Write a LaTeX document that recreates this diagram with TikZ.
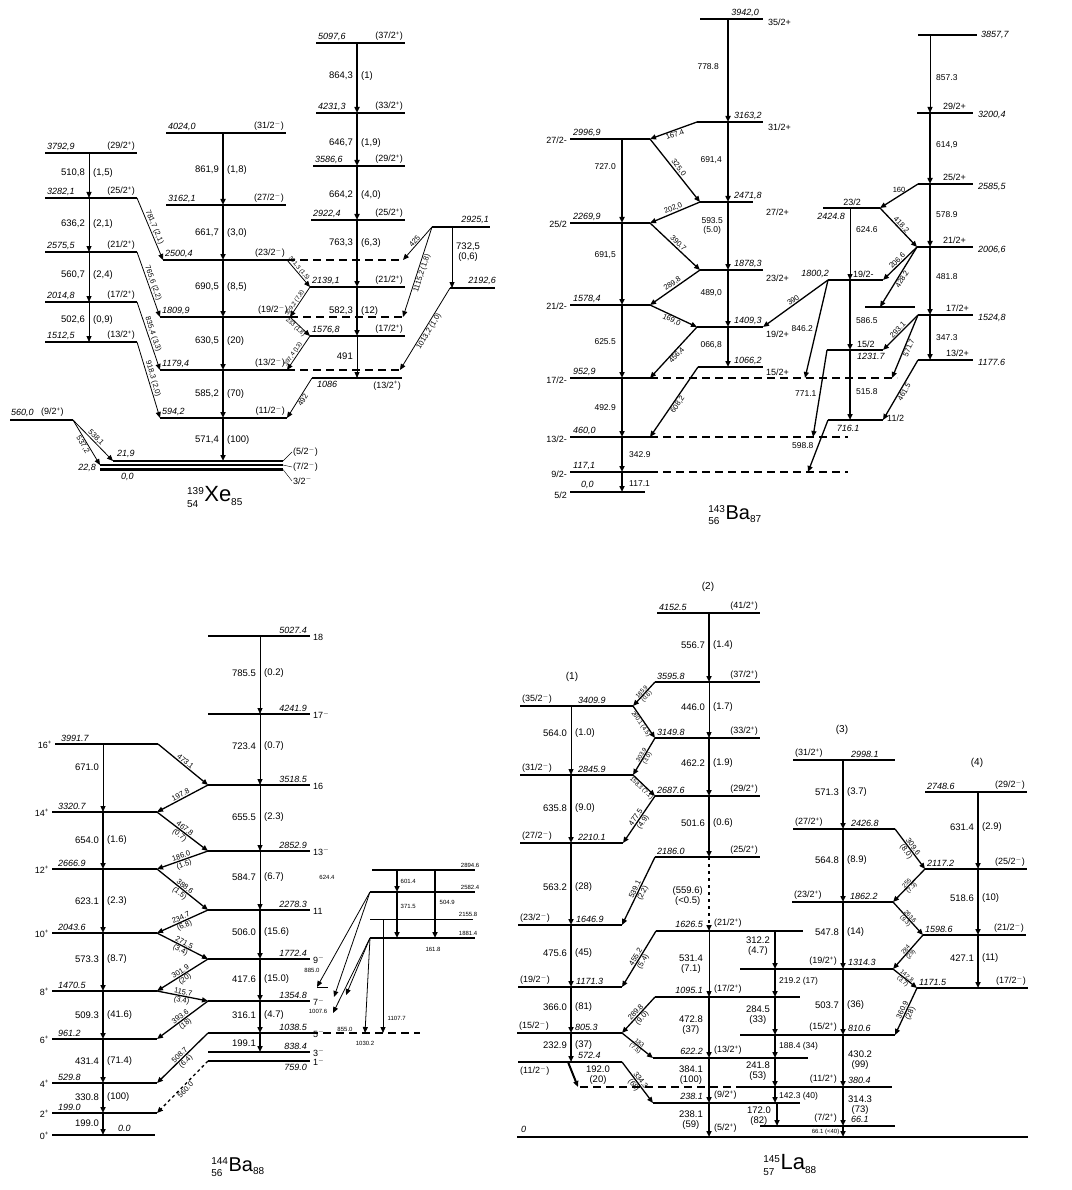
\documentclass[tikz,border=0pt]{standalone}
\usepackage{amsmath}
\usepackage{fontspec}
\setmainfont{Liberation Sans}
\usetikzlibrary{arrows.meta}

\newcommand{\upP}{\textsuperscript{+}}
\newcommand{\upM}{\textsuperscript{$-$}}
% level: energy left, spin right
\newcommand{\levES}[6]{%
  \draw[lev] (#2,#4) coordinate (#1) -- (#3,#4) coordinate (#1r);
  \node[en,anchor=south west] (#1e) at (#2+1,#4-1) {#5};
  \node[sp,anchor=south east] (#1s) at (#3-1,#4-1) {#6};}
% level: spin left, energy right
\newcommand{\levSE}[6]{%
  \draw[lev] (#2,#4) coordinate (#1) -- (#3,#4) coordinate (#1r);
  \node[sp,anchor=south west] (#1s) at (#2+1,#4-1) {#6};
  \node[en,anchor=south west] (#1e) at (#2+57,#4-1) {#5};}
% level: energy above right end, spin outside right
\newcommand{\levR}[6]{%
  \draw[lev] (#2,#4) coordinate (#1) -- (#3,#4) coordinate (#1r);
  \node[en,anchor=south east] (#1e) at (#3-2,#4-1) {#5};
  \node[sp,anchor=west] (#1s) at (#3+2,#4+1) {#6};}
% level: energy above left end, spin outside left
\newcommand{\levL}[6]{%
  \draw[lev] (#2,#4) coordinate (#1) -- (#3,#4) coordinate (#1r);
  \node[en,anchor=south west] (#1e) at (#2+5,#4-1) {#5};
  \node[sp,anchor=east] (#1s) at (#2-2,#4+1) {#6};}
% labels either side of a vertical transition
\newcommand{\tpair}[6][tl]{%
  \node[#1,anchor=east] (#2a) at (#3-3,#4) {#5};
  \node[#1,anchor=west] (#2b) at (#3+3,#4) {#6};}

\begin{document}
\begin{tikzpicture}[x=1pt,y=-1pt,
    lev/.style={line width=1.5pt},
    levd/.style={line width=1.2pt, dash pattern=on 8pt off 5pt},
    gam/.style={line width=0.8pt, -{Triangle[length=6pt,width=5pt]}},
    gamD/.style={gam, line width=1.3pt},
    gamT/.style={gam, line width=2pt},
    tl/.style={font=\fontsize{9.5}{10.5}\selectfont, inner sep=1pt},
    tlb/.style={font=\fontsize{8.5}{9.5}\selectfont, inner sep=1pt},
    tls/.style={font=\fontsize{7.5}{8}\selectfont, inner sep=0.8pt},
    tlx/.style={font=\fontsize{6}{6.5}\selectfont, inner sep=0.5pt},
    en/.style={font=\fontsize{9}{10}\selectfont\itshape, inner sep=1pt},
    sp/.style={font=\fontsize{9}{10}\selectfont, inner sep=1pt},
    nuc/.style={font=\fontsize{22}{24}\selectfont, inner sep=0pt}
]
\fill[white] (0,0) rectangle (1071,1190);
\useasboundingbox (0,0) rectangle (1071,1190);

% ---------------- 139Xe ----------------
% left band
\levES{xeA}{45}{137}{153}{3792,9}{(29/2\upP)}
\levES{xeB}{45}{137}{198}{3282,1}{(25/2\upP)}
\levES{xeC}{45}{137}{252}{2575,5}{(21/2\upP)}
\levES{xeD}{45}{137}{302}{2014,8}{(17/2\upP)}
\levES{xeE}{45}{137}{342}{1512,5}{(13/2\upP)}
\draw[gam] (89,0 |- xeA) -- (89,0 |- xeB);
\draw[gam] (89,0 |- xeB) -- (89,0 |- xeC);
\draw[gam] (89,0 |- xeC) -- (89,0 |- xeD);
\draw[gam] (89,0 |- xeD) -- (89,0 |- xeE);
\tpair{g510}{89}{173}{510,8}{(1,5)}
\tpair{g636}{89}{224}{636,2}{(2,1)}
\tpair{g560}{89}{275}{560,7}{(2,4)}
\tpair{g502}{89}{320}{502,6}{(0,9)}

% middle band
\levES{xeF}{166}{286}{133}{4024,0}{(31/2\upM)}
\levES{xeG}{166}{286}{205}{3162,1}{(27/2\upM)}
\levES{xeH}{163}{287}{260}{2500,4}{(23/2\upM)}
\levES{xeI}{160}{290}{317}{1809,9}{(19/2\upM)}
\levES{xeJ}{160}{287}{370}{1179,4}{(13/2\upM)}
\levES{xeK}{160}{287}{418}{594,2}{(11/2\upM)}
\draw[levd] (xeHr) -- (403,260) coordinate (xeHd);
\draw[levd] (xeIr) -- (403,317) coordinate (xeId);
\draw[levd] (xeJr) -- (400,370) coordinate (xeJd);

% ground levels
\draw[lev] (113,461) coordinate (xeG1) -- (283,461) coordinate (xeG1r);
\draw[lev] (100,465) coordinate (xeG2) -- (283,465) coordinate (xeG2r);
\draw[lev, line width=2.2pt] (100,469.5) coordinate (xeG0) -- (283,469.5) coordinate (xeG0r);
\node[en,anchor=south west] (xeG1e) at (116,459) {21,9};
\node[en,anchor=north west] (xeG0e) at (120,472) {0,0};
\node[en,anchor=east] (xeG2e) at (97,468) {22,8};
\draw (xeG1r) -- (292,452) node[sp,anchor=west] (xeG1s) {(5/2\upM)};
\draw (xeG2r) -- (292,467) node[sp,anchor=west] (xeG2s) {(7/2\upM)};
\draw (xeG0r) -- (292,481) node[sp,anchor=west] (xeG0s) {3/2\upM};

\draw[gamT] (223,0 |- xeF) -- (223,0 |- xeG);
\draw[gamT] (223,0 |- xeG) -- (223,0 |- xeH);
\draw[gamT] (223,0 |- xeH) -- (223,0 |- xeI);
\draw[gamT] (223,0 |- xeI) -- (223,0 |- xeJ);
\draw[gamT] (223,0 |- xeJ) -- (223,0 |- xeK);
\draw[gamT] (223,0 |- xeK) -- (223,0 |- xeG1);
\tpair{g861}{223}{170}{861,9}{(1,8)}
\tpair{g661}{223}{233}{661,7}{(3,0)}
\tpair{g690}{223}{287}{690,5}{(8,5)}
\tpair{g630}{223}{341}{630,5}{(20)}
\tpair{g585}{223}{394}{585,2}{(70)}
\tpair{g571}{223}{440}{571,4}{(100)}

% right band
\levES{xeL}{316}{405}{43}{5097,6}{(37/2\upP)}
\levES{xeM}{316}{405}{113}{4231,3}{(33/2\upP)}
\levES{xeN}{313}{405}{166}{3586,6}{(29/2\upP)}
\levES{xeO}{311}{405}{220}{2922,4}{(25/2\upP)}
\levES{xeP}{310}{405}{287}{2139,1}{(21/2\upP)}
\levES{xeQ}{310}{405}{336}{1576,8}{(17/2\upP)}
\draw[lev] (312,378) coordinate (xeR) -- (402,378) coordinate (xeRr);
\node[en,anchor=north west] (xeRe) at (316,380) {1086};
\node[sp,anchor=north east] (xeRs) at (402,380) {(13/2\upP)};
\draw[gamT] (357,0 |- xeL) -- (357,0 |- xeM);
\draw[gamT] (357,0 |- xeM) -- (357,0 |- xeN);
\draw[gamT] (357,0 |- xeN) -- (357,0 |- xeO);
\draw[gamT] (357,0 |- xeO) -- (357,0 |- xeP);
\draw[gamT] (357,0 |- xeP) -- (357,0 |- xeQ);
\draw[gam] (357,0 |- xeQ) -- (357,0 |- xeR);
\tpair{g864}{357}{76}{864,3}{(1)}
\tpair{g646}{357}{143}{646,7}{(1,9)}
\tpair{g664}{357}{195}{664,2}{(4,0)}
\tpair{g763}{357}{243}{763,3}{(6,3)}
\tpair{g582}{357}{311}{582,3}{(12)}
\tpair{g491}{357}{356}{491}{}

% side levels
\draw[lev] (432,227) coordinate (xeS) -- (490,227) coordinate (xeSr);
\node[en,anchor=south east] (xeSe) at (490,225) {2925,1};
\draw[lev] (450,288) coordinate (xeT) -- (495,288) coordinate (xeTr);
\node[en,anchor=south east] (xeTe) at (497,286) {2192,6};
\draw[gam] (452,0 |- xeS) -- (452,0 |- xeT);
\node[tl,anchor=west,align=center] (g732) at (455,252) {732,5\\(0,6)};
\draw[lev] (10,420) coordinate (xeX) -- (73,420) coordinate (xeXr);
\node[en,anchor=south west] (xeXe) at (10,418) {560,0};
\node[sp,anchor=south west] (xeXs) at (40,418) {(9/2\upP)};

% cross-over transitions
\draw[gam] (xeBr) -- node[tls,sloped,above] (d781) {781,7 (2,1)} (xeH);
\draw[gam] (xeCr) -- node[tls,sloped,above] (d765) {765,6 (2,2)} (xeI);
\draw[gam] (xeDr) -- node[tls,sloped,above] (d835) {835,4 (3,3)} (xeJ);
\draw[gam] (xeEr) -- node[tls,sloped,above] (d918) {918,3 (2,0)} (xeK);
\draw[gam] (xeHr) -- node[tlx,sloped,above,pos=0.4] (d361) {361,3 (1,5)} (xeP);
\draw[gam] (xeP) -- node[tlx,sloped,above,pos=0.6] (d329) {329,2 (7,8)} (xeIr);
\draw[gam] (xeIr) -- node[tlx,sloped,below,pos=0.4] (d233) {233 (1,8)} (xeQ);
\draw[gam] (xeQ) -- node[tlx,sloped,above,pos=0.6] (d397) {397,4 (13)} (xeJr);
\draw[gam] (xeR) -- node[tls,sloped,below] (d492) {492} (xeKr);
\draw[gam] (xeS) -- node[tls,sloped,above] (d425) {425} (xeHd);
\draw[gam] (xeS) -- node[tls,sloped,below] (d1115) {1115,2 (1,8)} (xeId);
\draw[gam] (xeT) -- node[tls,sloped,below] (d1013) {1013,2 (1,0)} (xeJd);
\draw[gam] (xeXr) -- node[tls,sloped,above] (d538) {538,1} (xeG1);
\draw[gam] (xeXr) -- node[tls,sloped,below] (d537) {537,2} (xeG2);

\node[nuc] (nucXe) at (215,497) {$^{\text{\normalsize 139}}_{\text{\normalsize 54}}$Xe$_{\text{\normalsize 85}}$};

% ---------------- 143Ba ----------------
\draw[lev] (700,19) coordinate (baA) -- (763,19) coordinate (baAr);
\node[en,anchor=south east] (baAe) at (760,18) {3942,0};
\node[sp,anchor=west] (baAs) at (767,22) {35/2+};
\draw[lev] (697,122) coordinate (baB) -- (763,122) coordinate (baBr);
\node[en,anchor=south west] (baBe) at (733,121) {3163,2};
\node[sp,anchor=west] (baBs) at (767,127) {31/2+};
\draw[lev] (570,139) coordinate (baC) -- (650,139) coordinate (baCr);
\node[en,anchor=south west] (baCe) at (572,138) {2996,9};
\node[sp,anchor=east] (baCs) at (568,140) {27/2-};
\draw[lev] (700,202) coordinate (baE) -- (753,202) coordinate (baEr);
\node[en,anchor=south west] (baEe) at (733,201) {2471,8};
\node[sp,anchor=west] (baEs) at (765,212) {27/2+};
\draw[lev] (570,223) coordinate (baD) -- (650,223) coordinate (baDr);
\node[en,anchor=south west] (baDe) at (572,222) {2269,9};
\node[sp,anchor=east] (baDs) at (568,224) {25/2};
\draw[lev] (700,270) coordinate (baF) -- (763,270) coordinate (baFr);
\node[en,anchor=south west] (baFe) at (733,269) {1878,3};
\node[sp,anchor=west] (baFs) at (765,278) {23/2+};
\draw[lev] (570,305) coordinate (baG) -- (650,305) coordinate (baGr);
\node[en,anchor=south west] (baGe) at (572,304) {1578,4};
\node[sp,anchor=east] (baGs) at (568,306) {21/2-};
\draw[lev] (697,327) coordinate (baH) -- (763,327) coordinate (baHr);
\node[en,anchor=south west] (baHe) at (733,326) {1409,3};
\node[sp,anchor=west] (baHs) at (765,334) {19/2+};
\draw[lev] (698,367) coordinate (baJ) -- (763,367) coordinate (baJr);
\node[en,anchor=south west] (baJe) at (733,366) {1066,2};
\node[sp,anchor=west] (baJs) at (765,372) {15/2+};
\draw[lev] (570,378) coordinate (baI) -- (650,378) coordinate (baIr);
\node[en,anchor=south west] (baIe) at (572,377) {952,9};
\node[sp,anchor=east] (baIs) at (568,380) {17/2-};
\draw[lev] (570,437) coordinate (baK) -- (650,437) coordinate (baKr);
\node[en,anchor=south west] (baKe) at (572,436) {460,0};
\node[sp,anchor=east] (baKs) at (568,439) {13/2-};
\draw[lev] (570,472) coordinate (baL) -- (650,472) coordinate (baLr);
\node[en,anchor=south west] (baLe) at (572,471) {117,1};
\node[sp,anchor=east] (baLs) at (568,474) {9/2-};
\draw[lev, line width=2.5pt] (570,492) coordinate (baM) -- (645,492) coordinate (baMr);
\node[en,anchor=south west] (baMe) at (580,490) {0,0};
\node[sp,anchor=east] (baMs) at (568,495) {5/2};
\draw[levd] (baIr) -- (897,378) coordinate (baId);
\draw[levd] (baKr) -- (848,437) coordinate (baKd);
\draw[levd] (baLr) -- (848,472) coordinate (baLd);

\draw[gamT] (728,0 |- baA) -- (728,0 |- baB);
\draw[gamT] (728,0 |- baB) -- (728,0 |- baE);
\draw[gamT] (728,0 |- baE) -- (728,0 |- baF);
\draw[gamT] (728,0 |- baF) -- (728,0 |- baH);
\draw[gamT] (728,0 |- baH) -- (728,0 |- baJ);
\draw[gamT] (622,0 |- baC) -- (622,0 |- baD);
\draw[gamT] (622,0 |- baD) -- (622,0 |- baG);
\draw[gamT] (622,0 |- baG) -- (622,0 |- baI);
\draw[gamT] (622,0 |- baI) -- (622,0 |- baK);
\draw[gamT] (622,0 |- baK) -- (622,0 |- baL);
\draw[gamT] (622,0 |- baL) -- (622,0 |- baM);
\node[tlb,anchor=east] (b778) at (720,67) {778.8};
\node[tlb,anchor=east] (b691) at (723,160) {691,4};
\node[tlb,anchor=east,align=center] (b593) at (724,226) {593.5\\(5.0)};
\node[tlb,anchor=east] (b489) at (723,293) {489,0};
\node[tlb,anchor=east] (b066) at (723,345) {066,8};
\node[tlb,anchor=east] (b727) at (617,167) {727.0};
\node[tlb,anchor=east] (b6915) at (617,255) {691,5};
\node[tlb,anchor=east] (b625) at (617,342) {625.5};
\node[tlb,anchor=east] (b492) at (617,408) {492.9};
\node[tlb,anchor=west] (b342) at (628,455) {342.9};
\node[tlb,anchor=west] (b117) at (628,484) {117.1};
\draw[gamD] (baB) -- node[tls,sloped,below] (b167) {167.4} (baCr);
\draw[gamD] (baCr) -- node[tls,sloped,above] (b325) {325,0} (baE);
\draw[gamD] (baE) -- node[tls,sloped,above] (b202) {202,0} (baDr);
\draw[gamD] (baDr) -- node[tls,sloped,above] (b390) {390,7} (baF);
\draw[gamD] (baF) -- node[tls,sloped,above] (b289) {289,8} (baGr);
\draw[gamD] (baGr) -- node[tls,sloped,below] (b169) {169,0} (baH);
\draw[gamD] (baH) -- node[tls,sloped,below] (b456) {456,4} (baIr);
\draw[gamD] (baJ) -- node[tls,sloped,below] (b608) {608,2} (baKr);

% right part
\draw[lev] (918,35) coordinate (baN) -- (977,35) coordinate (baNr);
\node[en,anchor=west] (baNe) at (980,35) {3857,7};
\draw[lev] (917,113) coordinate (baO) -- (973,113) coordinate (baOr);
\node[sp,anchor=south west] (baOs) at (942,111) {29/2+};
\node[en,anchor=west] (baOe) at (977,115) {3200,4};
\draw[lev] (918,184) coordinate (baP) -- (973,184) coordinate (baPr);
\node[sp,anchor=south west] (baPs) at (942,182) {25/2+};
\node[en,anchor=west] (baPe) at (977,187) {2585,5};
\draw[lev] (823,208) coordinate (baR) -- (880,208) coordinate (baRr);
\node[sp,anchor=south] (baRs) at (852,207) {23/2};
\node[en,anchor=east] (baRe) at (846,216) {2424.8};
\draw[lev] (917,247) coordinate (baQ) -- (973,247) coordinate (baQr);
\node[sp,anchor=south west] (baQs) at (942,245) {21/2+};
\node[en,anchor=west] (baQe) at (977,250) {2006,6};
\draw[lev] (828,280) coordinate (baS) -- (883,280) coordinate (baSr);
\node[en,anchor=south east] (baSe) at (830,279) {1800,2};
\node[sp,anchor=south west] (baSs) at (852,279) {19/2-};
\draw[lev] (865,307) coordinate (baT) -- (915,307) coordinate (baTr);
\draw[lev] (918,315) coordinate (baU) -- (973,315) coordinate (baUr);
\node[sp,anchor=south west] (baUs) at (945,313) {17/2+};
\node[en,anchor=west] (baUe) at (977,318) {1524,8};
\draw[lev] (827,350) coordinate (baW) -- (883,350) coordinate (baWr);
\node[sp,anchor=south west] (baWs) at (856,349) {15/2};
\node[en,anchor=north west] (baWe) at (856,352) {1231.7};
\draw[lev] (918,360) coordinate (baV) -- (973,360) coordinate (baVr);
\node[sp,anchor=south west] (baVs) at (945,358) {13/2+};
\node[en,anchor=west] (baVe) at (977,362) {1177.6};
\draw[lev] (828,420) coordinate (baX) -- (883,420) coordinate (baXr);
\node[en,anchor=north] (baXe) at (848,424) {716.1};
\node[sp,anchor=west] (baXs) at (886,418) {11/2};

\draw[gam] (930,0 |- baN) -- (930,0 |- baO);
\draw[gamT] (930,0 |- baO) -- (930,0 |- baP);
\draw[gamT] (930,0 |- baP) -- (930,0 |- baQ);
\draw[gamT] (930,0 |- baQ) -- (930,0 |- baU);
\draw[gamT] (930,0 |- baU) -- (930,0 |- baV);
\draw[gam] (850,0 |- baR) -- (850,0 |- baS);
\draw[gamT] (850,0 |- baS) -- (850,0 |- baW);
\draw[gamT] (850,0 |- baW) -- (850,0 |- baX);
\node[tlb,anchor=west] (b857) at (935,78) {857.3};
\node[tlb,anchor=west] (b614) at (935,145) {614,9};
\node[tlb,anchor=west] (b578) at (935,215) {578.9};
\node[tlb,anchor=west] (b481) at (935,277) {481.8};
\node[tlb,anchor=west] (b347) at (935,338) {347.3};
\node[tlb,anchor=west] (b624) at (855,230) {624.6};
\node[tlb,anchor=west] (b586) at (855,321) {586.5};
\node[tlb,anchor=west] (b515) at (855,392) {515.8};
\draw[gamD] (baP) -- node[tls,above=2pt] (b160) {160} (baRr);
\draw[gamD] (baRr) -- node[tls,sloped,above] (b418) {418.2} (baQ);
\draw[gamD] (baQ) -- node[tls,sloped,above] (b206) {206.6} (baSr);
\draw[gamD] (baQ) -- node[tls,sloped,below] (b428) {428.2} (880,0 |- baT);
\draw[gamD] (baS) -- node[tls,sloped,above] (b390b) {390} (baHr);
\draw[gamD] (baU) -- node[tls,sloped,above] (b293) {293.1} (baWr);
\draw[gamD] (baU) -- node[tls,sloped,below] (b571) {571.7} (892,0 |- baI);
\draw[gamD] (baV) -- node[tls,sloped,below] (b461) {461.5} (baXr);
\draw[gamD] (baS) -- node[tlb,left=2pt] (b846) {846.2} (805,0 |- baI);
\draw[gamD] (baW) -- node[tlb,left=2pt] (b771) {771.1} (813,0 |- baK);
\draw[gamD] (baX) -- node[tlb,left=3pt] (b598) {598.8} (808,0 |- baL);

\node[nuc,font=\fontsize{20}{22}\selectfont] (nucBa3) at (735,515) {$^{\text{\normalsize 143}}_{\text{\normalsize 56}}$Ba$_{\text{\normalsize 87}}$};

% ---------------- 144Ba ----------------
\levR{bbA}{208}{310}{636}{5027.4}{18}
\levR{bbB}{208}{310}{714}{4241.9}{17\upM}
\levR{bbC}{208}{310}{785}{3518.5}{16}
\levR{bbD}{208}{310}{851}{2852.9}{13\upM}
\levR{bbE}{208}{310}{910}{2278.3}{11}
\levR{bbF}{208}{310}{959}{1772.4}{9\upM}
\levR{bbG}{208}{310}{1001}{1354.8}{7\upM}
\levR{bbH}{208}{310}{1033}{1038.5}{5\upM}
\levR{bbI}{208}{310}{1052}{838.4}{3\upM}
\draw[lev] (208,1061) coordinate (bbJ) -- (310,1061) coordinate (bbJr);
\node[en,anchor=north east] (bbJe) at (308,1063) {759.0};
\node[sp,anchor=west] (bbJs) at (312,1062) {1\upM};
\draw[levd] (bbHr) -- (420,1033) coordinate (bbHd);
\draw[gam] (260,0 |- bbA) -- (260,0 |- bbB);
\draw[gam] (260,0 |- bbB) -- (260,0 |- bbC);
\draw[gam] (260,0 |- bbC) -- (260,0 |- bbD);
\draw[gam] (260,0 |- bbD) -- (260,0 |- bbE);
\draw[gamT] (260,0 |- bbE) -- (260,0 |- bbF);
\draw[gamT] (260,0 |- bbF) -- (260,0 |- bbG);
\draw[gamT] (260,0 |- bbG) -- (260,0 |- bbH);
\draw[gamT] (260,0 |- bbH) -- (260,0 |- bbI);
\tpair{h785}{260}{673}{785.5}{(0.2)}
\tpair{h723}{260}{746}{723.4}{(0.7)}
\tpair{h655}{260}{817}{655.5}{(2.3)}
\tpair{h584}{260}{877}{584.7}{(6.7)}
\tpair{h506}{260}{932}{506.0}{(15.6)}
\tpair{h417}{260}{979}{417.6}{(15.0)}
\tpair{h316}{260}{1015}{316.1}{(4.7)}
\tpair{h199}{260}{1043}{199.1}{}
\node[tlx] (h624) at (327,877) {624.4};

\levL{bbK}{55}{158}{744}{3991.7}{16\upP}
\levL{bbL}{52}{157}{812}{3320.7}{14\upP}
\levL{bbM}{52}{157}{869}{2666.9}{12\upP}
\levL{bbN}{52}{157}{933}{2043.6}{10\upP}
\levL{bbO}{52}{157}{991}{1470.5}{8\upP}
\levL{bbP}{52}{157}{1039}{961.2}{6\upP}
\levL{bbQ}{52}{157}{1083}{529.8}{4\upP}
\levL{bbR}{52}{157}{1113}{199.0}{2\upP}
\draw[lev, line width=2.2pt] (52,1135) coordinate (bbS) -- (155,1135) coordinate (bbSr);
\node[en,anchor=south west] (bbSe) at (117,1133) {0.0};
\node[sp,anchor=east] (bbSs) at (50,1136) {0\upP};
\draw[gam] (103,0 |- bbK) -- (103,0 |- bbL);
\draw[gamT] (103,0 |- bbL) -- (103,0 |- bbM);
\draw[gamT] (103,0 |- bbM) -- (103,0 |- bbN);
\draw[gamT] (103,0 |- bbN) -- (103,0 |- bbO);
\draw[gamT] (103,0 |- bbO) -- (103,0 |- bbP);
\draw[gamT] (103,0 |- bbP) -- (103,0 |- bbQ);
\draw[gamT] (103,0 |- bbQ) -- (103,0 |- bbR);
\draw[gamT] (103,0 |- bbR) -- (103,0 |- bbS);
\tpair{h671}{103}{767}{671.0}{}
\tpair{h654}{103}{840}{654.0}{(1.6)}
\tpair{h623}{103}{901}{623.1}{(2.3)}
\tpair{h573}{103}{959}{573.3}{(8.7)}
\tpair{h509}{103}{1015}{509.3}{(41.6)}
\tpair{h431}{103}{1061}{431.4}{(71.4)}
\tpair{h330}{103}{1097}{330.8}{(100)}
\tpair{h199b}{103}{1123}{199.0}{}

\draw[gamD] (bbKr) -- node[tls,sloped,above] (h473) {473.1} (bbC);
\draw[gamD] (bbC) -- node[tls,sloped,above] (h197) {197.8} (bbLr);
\draw[gamD] (bbLr) -- node[tls,sloped,above] (h467) {467.8} node[tls,sloped,below] (h467b) {(0.7)} (bbD);
\draw[gamD] (bbD) -- node[tls,sloped,above] (h186) {186.0} node[tls,sloped,below] (h186b) {(1.5)} (bbMr);
\draw[gamD] (bbMr) -- node[tls,sloped,above] (h388) {388.6} node[tls,sloped,below] (h388b) {(1.5)} (bbE);
\draw[gamD] (bbE) -- node[tls,sloped,above] (h234) {234.7} node[tls,sloped,below] (h234b) {(6.8)} (bbNr);
\draw[gamD] (bbNr) -- node[tls,sloped,above] (h271) {271.5} node[tls,sloped,below] (h271b) {(3.4)} (bbF);
\draw[gamD] (bbF) -- node[tls,sloped,above] (h301) {301.9} node[tls,sloped,below] (h301b) {(20)} (bbOr);
\draw[gamD] (bbOr) -- node[tls,sloped,above] (h115) {115.7} node[tls,sloped,below] (h115b) {(3.4)} (bbG);
\draw[gamD] (bbG) -- node[tls,sloped,above] (h393) {393.6} node[tls,sloped,below] (h393b) {(18)} (bbPr);
\draw[gamD] (bbH) -- node[tls,sloped,above] (h508) {508.7} node[tls,sloped,below] (h508b) {(6.4)} (bbQr);
\draw[gamD, dashed] (bbJ) -- node[tls,sloped,below] (h560) {560.0} (bbRr);

% side band
\draw[lev] (372,870) coordinate (bbT) -- (475,870) coordinate (bbTr);
\draw[lev] (370,892) coordinate (bbU) -- (475,892) coordinate (bbUr);
\draw[line width=1pt] (370,919) coordinate (bbV) -- (473,919) coordinate (bbVr);
\draw[lev] (370,938) coordinate (bbW) -- (475,938) coordinate (bbWr);
\node[tlx,anchor=south east] (bbTe) at (480,868) {2894.6};
\node[tlx,anchor=south east] (bbUe) at (480,890) {2582.4};
\node[tlx,anchor=south east] (bbVe) at (478,917) {2155.8};
\node[tlx,anchor=south east] (bbWe) at (478,936) {1881.4};
\draw[gamT] (397,0 |- bbT) -- (397,0 |- bbU);
\draw[gamT] (397,0 |- bbU) -- (397,0 |- bbW);
\draw[gamT] (435,0 |- bbT) -- (435,0 |- bbW);
\draw[gam] (383,0 |- bbV) -- (383,0 |- bbHd);
\node[tlx,anchor=west] (h601) at (400,881) {601.4};
\node[tlx,anchor=west] (h371) at (400,906) {371.5};
\node[tlx,anchor=west] (h504) at (439,902) {504.9};
\node[tlx,anchor=north] (h161) at (433,947) {161.8};
\node[tlx,anchor=west] (h1107) at (387,1018) {1107.7};
\node[tlx,anchor=north] (h1030) at (365,1041) {1030.2};
\draw[line width=1pt] (317,987) coordinate (bbY) -- (328,987) coordinate (bbYr);
\draw[gam] (bbU) -- (bbY);
\draw[gam] (bbU) -- (334,997) coordinate (bbZ1);
\draw[gam] (bbW) -- (346,995) coordinate (bbZ2);
\draw[gam] (bbW) -- (333,1013) coordinate (bbZ3);
\draw[gam] (bbW) -- (365,0 |- bbHd);
\node[tlx] (h885) at (312,970) {885.0};
\node[tlx] (h1007) at (318,1011) {1007.6};
\node[tlx] (h855) at (345,1029) {855.0};

\node[nuc,font=\fontsize{20}{22}\selectfont] (nucBa4) at (238,1167) {$^{\text{\normalsize 144}}_{\text{\normalsize 56}}$Ba$_{\text{\normalsize 88}}$};

% ---------------- 145La ----------------
\node[sp,font=\fontsize{10}{11}\selectfont] (band1) at (572,677) {(1)};
\node[sp,font=\fontsize{10}{11}\selectfont] (band2) at (708,587) {(2)};
\node[sp,font=\fontsize{10}{11}\selectfont] (band3) at (842,730) {(3)};
\node[sp,font=\fontsize{10}{11}\selectfont] (band4) at (977,763) {(4)};

% band 2
\levES{laA}{657}{760}{613}{4152.5}{(41/2\upP)}
\levES{laB}{655}{760}{682}{3595.8}{(37/2\upP)}
\levES{laC}{655}{760}{738}{3149.8}{(33/2\upP)}
\levES{laD}{655}{760}{796}{2687.6}{(29/2\upP)}
\levES{laE}{655}{760}{857}{2186.0}{(25/2\upP)}
\draw[lev] (656,931) coordinate (laF) -- (803,931) coordinate (laFr);
\node[en,anchor=south east] (laFe) at (704,929) {1626.5};
\node[sp,anchor=south west] (laFs) at (713,929) {(21/2\upP)};
\draw[lev] (655,997) coordinate (laG) -- (800,997) coordinate (laGr);
\node[en,anchor=south east] (laGe) at (704,995) {1095.1};
\node[sp,anchor=south west] (laGs) at (713,995) {(17/2\upP)};
\draw[lev] (653,1058) coordinate (laH) -- (808,1058) coordinate (laHr);
\node[en,anchor=south east] (laHe) at (704,1056) {622.2};
\node[sp,anchor=south west] (laHs) at (713,1056) {(13/2\upP)};
\draw[lev] (653,1103) coordinate (laI) -- (800,1103) coordinate (laIr);
\node[en,anchor=south east] (laIe) at (704,1101) {238.1};
\node[sp,anchor=south west] (laIs) at (713,1101) {(9/2\upP)};
\draw[lev, line width=2.5pt] (517,1137) coordinate (laZ) -- (1028,1137) coordinate (laZr);
\node[en,anchor=south west] (laZe) at (520,1134) {0};
\node[sp,anchor=south west] (laZs) at (713,1134) {(5/2\upP)};

\draw[gamT] (709,0 |- laA) -- (709,0 |- laB);
\draw[gam] (709,0 |- laB) -- (709,0 |- laC);
\draw[gamT] (709,0 |- laC) -- (709,0 |- laD);
\draw[gamT] (709,0 |- laD) -- (709,0 |- laE);
\draw[gamT, dash pattern=on 3pt off 4pt] (709,0 |- laE) -- (709,0 |- laF);
\draw[gam] (709,0 |- laF) -- (709,0 |- laG);
\draw[gamT] (709,0 |- laG) -- (709,0 |- laH);
\draw[gamT] (709,0 |- laH) -- (709,0 |- laI);
\draw[gamT] (709,0 |- laI) -- (709,0 |- laZ);
\tpair{l556}{709}{645}{556.7}{(1.4)}
\tpair{l446}{709}{707}{446.0}{(1.7)}
\tpair{l462}{709}{763}{462.2}{(1.9)}
\tpair{l501}{709}{823}{501.6}{(0.6)}
\node[tl,anchor=east,align=center] (l559) at (704,896) {(559.6)\\(<0.5)};
\node[tl,anchor=east,align=center] (l531) at (704,964) {531.4\\(7.1)};
\node[tl,anchor=east,align=center] (l472) at (704,1025) {472.8\\(37)};
\node[tl,anchor=east,align=center] (l384) at (704,1075) {384.1\\(100)};
\node[tl,anchor=east,align=center] (l238) at (704,1120) {238.1\\(59)};

% band 1
\levSE{laJ}{520}{633}{706}{3409.9}{(35/2\upM)}
\levSE{laK}{520}{633}{775}{2845.9}{(31/2\upM)}
\levSE{laL}{520}{623}{843}{2210.1}{(27/2\upM)}
\levSE{laM}{518}{622}{925}{1646.9}{(23/2\upM)}
\levSE{laN}{518}{622}{987}{1171.3}{(19/2\upM)}
\levSE{laO}{517}{622}{1033}{805.3}{(15/2\upM)}
\draw[lev] (518,1062) coordinate (laP) -- (622,1062) coordinate (laPr);
\node[en,anchor=south west] (laPe) at (577,1060) {572.4};
\node[sp,anchor=north west] (laPs) at (519,1065) {(11/2\upM)};
\draw[gam] (571,0 |- laJ) -- (571,0 |- laK);
\draw[gamT] (571,0 |- laK) -- (571,0 |- laL);
\draw[gamT] (571,0 |- laL) -- (571,0 |- laM);
\draw[gamT] (571,0 |- laM) -- (571,0 |- laN);
\draw[gamT] (571,0 |- laN) -- (571,0 |- laO);
\draw[gamT] (571,0 |- laO) -- (571,0 |- laP);
\tpair{l564}{571}{733}{564.0}{(1.0)}
\tpair{l635}{571}{808}{635.8}{(9.0)}
\tpair{l563}{571}{887}{563.2}{(28)}
\tpair{l475}{571}{953}{475.6}{(45)}
\tpair{l366}{571}{1007}{366.0}{(81)}
\tpair{l232}{571}{1045}{232.9}{(37)}

% band 3
\levSE{laQ}{793}{895}{760}{2998.1}{(31/2\upP)}
\levSE{laR}{793}{895}{829}{2426.8}{(27/2\upP)}
\levSE{laS}{792}{893}{902}{1862.2}{(23/2\upP)}
\draw[lev] (740,969) coordinate (laT) -- (893,969) coordinate (laTr);
\node[sp,anchor=south east] (laTs) at (838,967) {(19/2\upP)};
\node[en,anchor=south west] (laTe) at (847,967) {1314.3};
\draw[lev] (740,1035) coordinate (laU) -- (895,1035) coordinate (laUr);
\node[sp,anchor=south east] (laUs) at (838,1033) {(15/2\upP)};
\node[en,anchor=south west] (laUe) at (847,1033) {810.6};
\draw[levd] (580,1087) coordinate (laVd) -- (740,1087);
\draw[lev] (740,1087) coordinate (laV) -- (892,1087) coordinate (laVr);
\node[sp,anchor=south east] (laVs) at (838,1085) {(11/2\upP)};
\node[en,anchor=south west] (laVe) at (847,1085) {380.4};
\draw[lev] (760,1126) coordinate (laW) -- (895,1126) coordinate (laWr);
\node[sp,anchor=south east] (laWs) at (838,1124) {(7/2\upP)};
\node[en,anchor=south west] (laWe) at (850,1124) {66.1};

\draw[gamT] (568,0 |- laP) -- (578,0 |- laVd);
\node[tl,align=center] (l192) at (598,1075) {192.0\\(20)};

\draw[gamT] (843,0 |- laQ) -- (843,0 |- laR);
\draw[gamT] (843,0 |- laR) -- (843,0 |- laS);
\draw[gamT] (843,0 |- laS) -- (843,0 |- laT);
\draw[gamT] (843,0 |- laT) -- (843,0 |- laU);
\draw[gamT] (843,0 |- laU) -- (843,0 |- laV);
\draw[gamT] (843,0 |- laV) -- (843,0 |- laW);
\draw[gamT] (843,0 |- laW) -- (843,0 |- laZ);
\tpair{l571}{843}{792}{571.3}{(3.7)}
\tpair{l5648}{843}{860}{564.8}{(8.9)}
\tpair{l547}{843}{932}{547.8}{(14)}
\tpair{l503}{843}{1005}{503.7}{(36)}
\node[tl,anchor=west,align=center] (l430) at (847,1060) {430.2\\(99)};
\node[tl,anchor=west,align=center] (l314) at (847,1105) {314.3\\(73)};
\node[tlx,anchor=east] (l66) at (840,1132) {66.1 (<40)};

\draw[gamT] (775,0 |- laF) -- (775,0 |- laT);
\draw[gamT] (775,0 |- laT) -- (775,0 |- laG);
\draw[gamT] (775,0 |- laG) -- (775,0 |- laU);
\draw[gamT] (775,0 |- laU) -- (775,0 |- laH);
\draw[gamT] (775,0 |- laH) -- (775,0 |- laV);
\draw[gamT] (775,0 |- laV) -- (775,0 |- laI);
\draw[gamT] (777,0 |- laI) -- (777,0 |- laW);
\node[tl,anchor=east,align=center] (l312) at (771,946) {312.2\\(4.7)};
\node[tlb,anchor=west] (l219) at (778,981) {219.2 (17)};
\node[tl,anchor=east,align=center] (l284) at (771,1015) {284.5\\(33)};
\node[tlb,anchor=west] (l188) at (778,1046) {188.4 (34)};
\node[tl,anchor=east,align=center] (l241) at (771,1071) {241.8\\(53)};
\node[tlb,anchor=west] (l142) at (778,1096) {142.3 (40)};
\node[tl,anchor=east,align=center] (l172) at (772,1116) {172.0\\(82)};

% band 4
\levES{laX}{925}{1027}{792}{2748.6}{(29/2\upM)}
\levES{laY}{925}{1027}{869}{2117.2}{(25/2\upM)}
\levES{la1598}{923}{1026}{935}{1598.6}{(21/2\upM)}
\levES{la1171}{917}{1028}{988}{1171.5}{(17/2\upM)}
\draw[gamT] (978,0 |- laX) -- (978,0 |- laY);
\draw[gamT] (978,0 |- laY) -- (978,0 |- la1598);
\draw[gamT] (978,0 |- la1598) -- (978,0 |- la1171);
\tpair{l631}{978}{827}{631.4}{(2.9)}
\tpair{l518}{978}{898}{518.6}{(10)}
\tpair{l427}{978}{958}{427.1}{(11)}

% inter-band transitions
\draw[gamD] (laB) -- node[tlx,sloped,above] (d185) {185.9} node[tlx,sloped,below] (d185b) {(0.6)} (laJr);
\draw[gamD] (laJr) -- node[tlx,sloped,below] (d260) {260.1 (4.5)} (laC);
\draw[gamD] (laC) -- node[tlx,sloped,above] (d303) {303.9} node[tlx,sloped,below] (d303b) {(3.0)} (laKr);
\draw[gamD] (laKr) -- node[tlx,sloped,below] (d158) {158.3 (7.1)} (laD);
\draw[gamD] (laD) -- node[tls,sloped,above] (d477) {477.5} node[tls,sloped,below] (d477b) {(4.9)} (laLr);
\draw[gamD] (laE) -- node[tls,sloped,above] (d539) {539.1} node[tls,sloped,below] (d539b) {(2.2)} (laMr);
\draw[gamD] (laF) -- node[tls,sloped,above] (d455) {455.2} node[tls,sloped,below] (d455b) {(5.4)} (laNr);
\draw[gamD] (laG) -- node[tls,sloped,above] (d289) {289.8} node[tls,sloped,below] (d289b) {(9.0)} (laOr);
\draw[gamD] (laOr) -- node[tlx,sloped,above] (d183) {183} node[tlx,sloped,below] (d183b) {(7.5)} (laH);
\draw[gamD] (laPr) -- node[tls,sloped,above] (d334) {334.3} node[tls,sloped,below] (d334b) {(68)} (laI);
\draw[gamD] (laRr) -- node[tls,sloped,above] (d309) {309.6} node[tls,sloped,below] (d309b) {(8.0)} (laY);
\draw[gamD] (laY) -- node[tlx,sloped,above] (d255) {255} node[tlx,sloped,below] (d255b) {(7.3)} (laSr);
\draw[gamD] (laSr) -- node[tlx,sloped,above] (d263) {263.6} node[tlx,sloped,below] (d263b) {(9.3)} (la1598);
\draw[gamD] (la1598) -- node[tlx,sloped,above] (d284) {284} node[tlx,sloped,below] (d284b) {(29)} (laTr);
\draw[gamD] (laTr) -- node[tlx,sloped,above] (d142) {142.8} node[tlx,sloped,below] (d142b) {(3.7)} (la1171);
\draw[gamD] (la1171) -- node[tls,sloped,above] (d360) {360.9} node[tls,sloped,below] (d360b) {(28)} (laUr);

\node[nuc,font=\fontsize{22}{24}\selectfont] (nucLa) at (790,1165) {$^{\text{\normalsize 145}}_{\text{\normalsize 57}}$La$_{\text{\normalsize 88}}$};

\end{tikzpicture}
\end{document}
